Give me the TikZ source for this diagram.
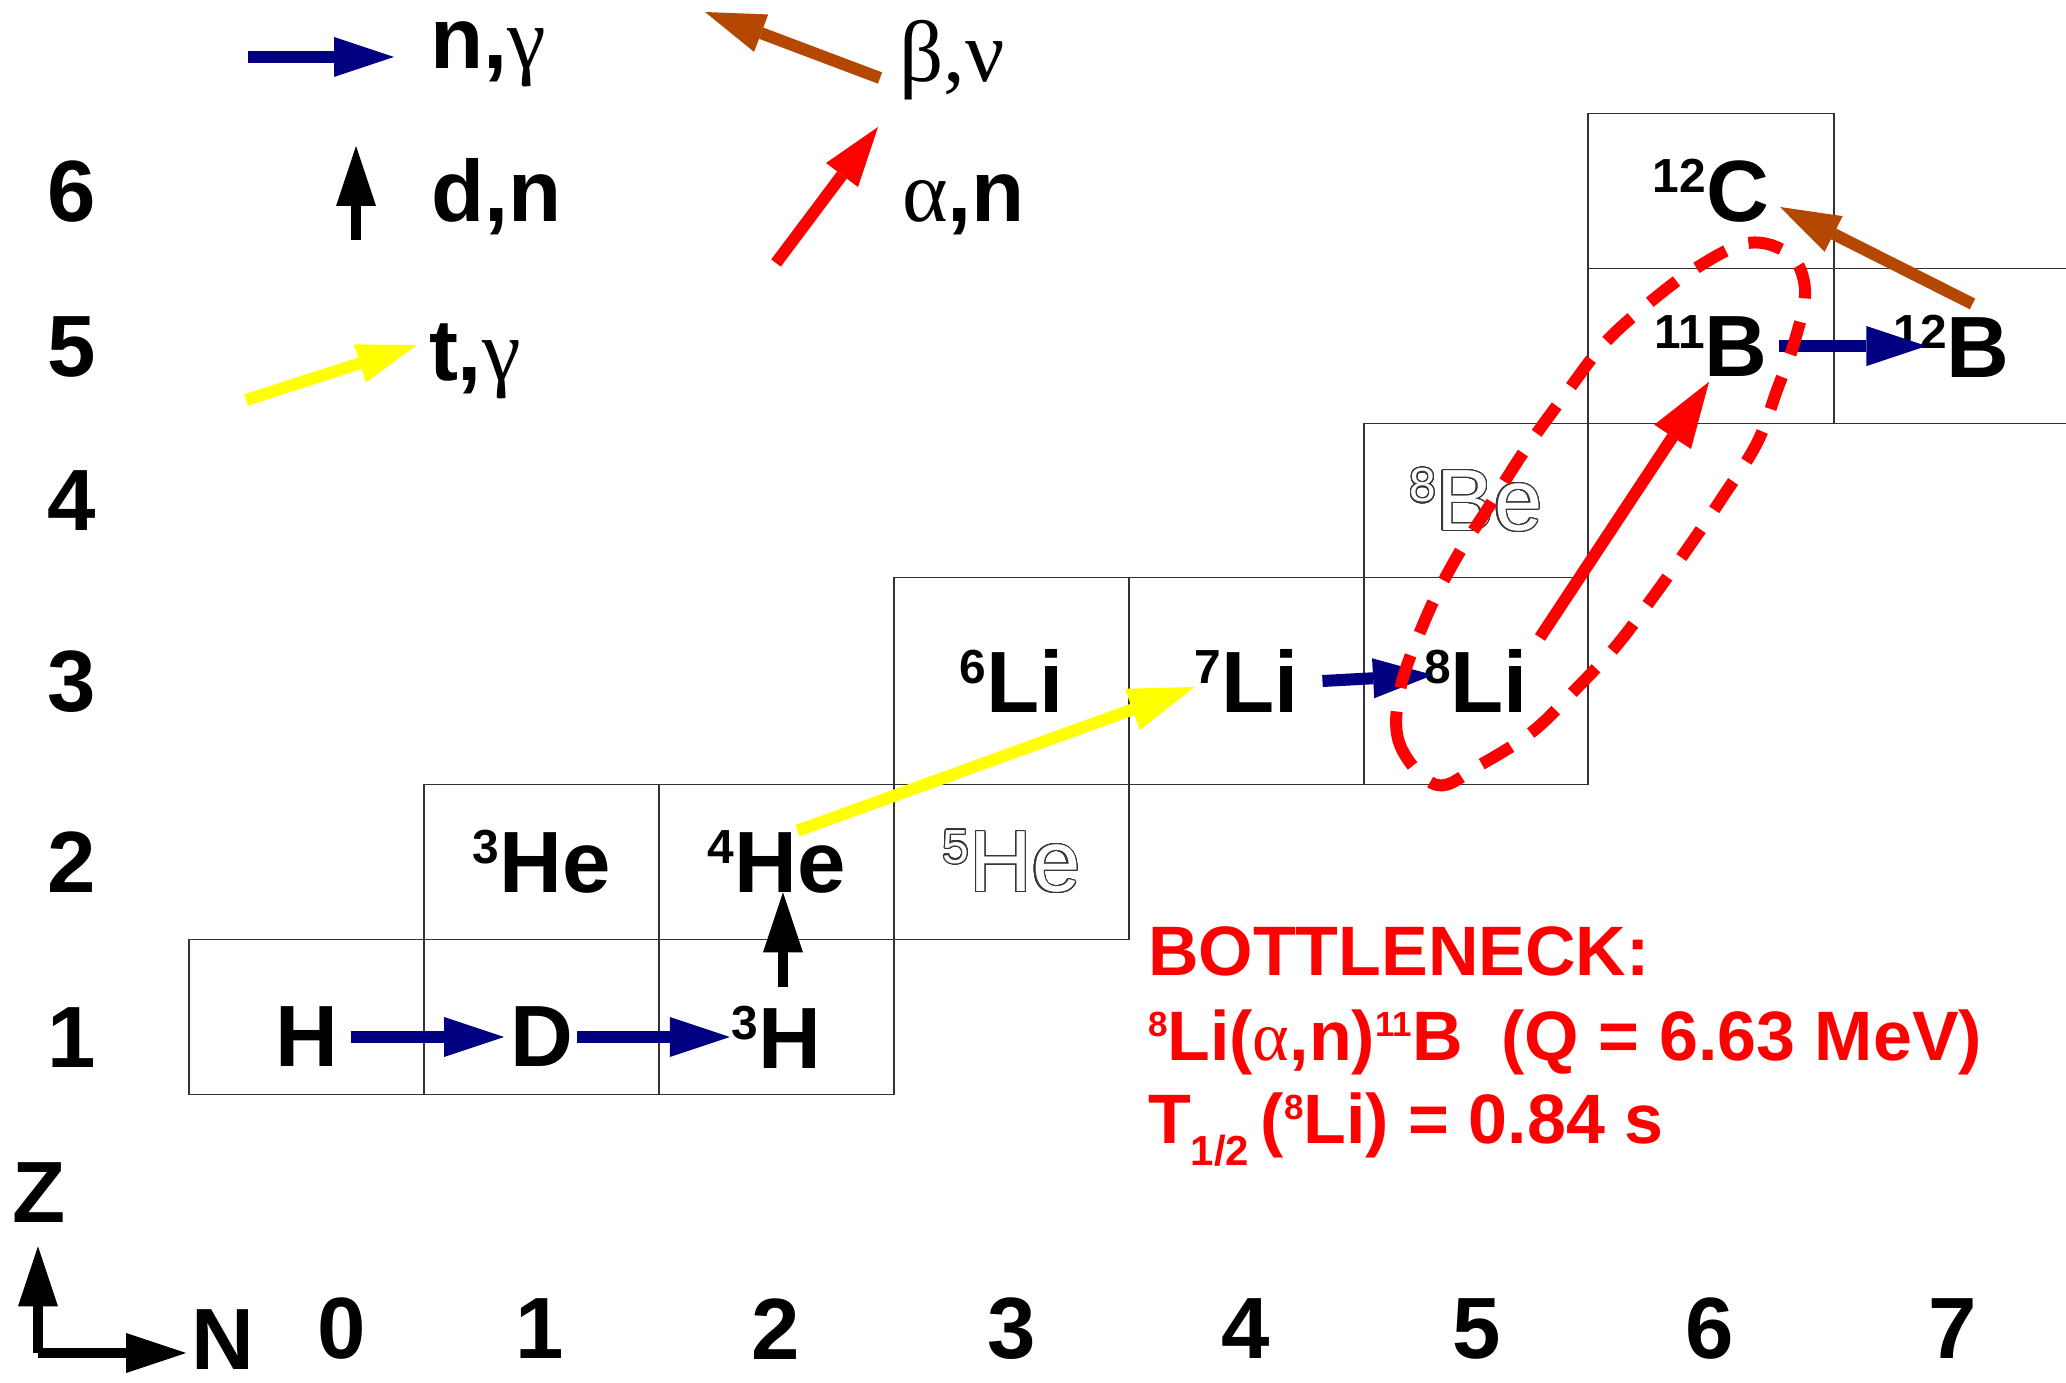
\documentclass[tikz,border=0pt]{standalone}
\usepackage{fontspec}
\setmainfont{Liberation Sans}
\newfontfamily\greekfont{Liberation Serif}
\usepackage{graphicx}
\usepackage{contour}
\usepackage{tikz}
\usetikzlibrary{
	positioning,
	arrows.meta,
	calc
}
\definecolor{ReacBlue}{RGB}{0,0,128}
\definecolor{ReacRed}{RGB}{255,0,0}
\definecolor{ReacYellow}{RGB}{255,255,0}
\definecolor{ReacBrown}{RGB}{180,72,0}
\definecolor{GridGray}{RGB}{50,50,50}
\definecolor{GhostGray}{RGB}{55,55,55}
\contourlength{1.2pt}
\contournumber{32}
% mass number in front of the element
\newcommand{\iso}[3][.55]{\raisebox{.33em}{\scalebox{#1}{#2}}#3}
\newcommand{\gk}[1]{{\greekfont\mdseries #1}}
% unbound nuclei: hollow letters
\newcommand{\unbound}[1]{{\mdseries\color{white}\contour{GhostGray}{#1}}}

\begin{document}
\begin{tikzpicture}[
	x=1pt,
	y=-1pt,
	node distance=0pt,
	every node/.style={
		inner sep=0pt,
		outer sep=0pt
	},
	cell/.style={
		draw=GridGray,
		line width=1.5pt,
		minimum width=235pt,
		minimum height=155pt
	},
	nuc/.style={
		font=\fontsize{87}{90}\selectfont\bfseries
	},
	note/.style={
		anchor=base west,
		text=ReacRed,
		font=\fontsize{70}{80}\selectfont\bfseries
	},
	reac/.style={
		line width=12pt,
		-{Triangle[length=60pt,width=40pt,line width=0pt]}
	},
	bigtip/.style={
		-{Triangle[length=66pt,width=44pt,line width=0pt]}
	},
	ngamma/.style={reac, ReacBlue},
	dn/.style={reac, line width=10pt, black},
	tgamma/.style={reac, ReacYellow},
	alphan/.style={reac, ReacRed},
	betanu/.style={reac, ReacBrown},
	axisarrow/.style={reac, line width=10pt, black},
	bottleneck/.style={
		ReacRed,
		line width=12pt,
		dash pattern=on 34pt off 24pt
	}
	]
	
	\path[use as bounding box, fill=white] (0,0) rectangle (2066,1383);
	
	% chart cells
	\node[cell] (cH) at (306.5,1017) {};
	\node[cell, right=of cH] (cD) {};
	\node[cell, right=of cD] (cH3) {};
	\node[cell, above=of cD] (cHe3) {};
	\node[cell, right=of cHe3] (cHe4) {};
	\node[cell, right=of cHe4] (cHe5) {};
	\node[cell, minimum height=207pt, above=of cHe5] (cLi6) {};
	\node[cell, minimum height=207pt, right=of cLi6] (cLi7) {};
	\node[cell, minimum width=224pt, minimum height=207pt, right=of cLi7] (cLi8) {};
	\node[cell, minimum width=224pt, minimum height=154pt, above=of cLi8] (cBe8) {};
	\node[cell, minimum width=246pt, above right=of cBe8] (cB11) {};
	\node[cell, right=of cB11] (cB12) {};
	\node[cell, minimum width=246pt, above=of cB11] (cC12) {};
	
	% nuclei
	\node[nuc] (H) at ([yshift=-20pt]cH.center) {H};
	\node[nuc] (D) at ([yshift=-20pt]cD.center) {D};
	\node[nuc] (H3) at ([yshift=-20pt]cH3.center) {\iso{3}{H}};
	\node[nuc] (He3) at (cHe3) {\iso{3}{He}};
	\node[nuc] (He4) at (cHe4) {\iso{4}{He}};
	\node[nuc] (He5) at (cHe5) {\unbound{\iso{5}{He}}};
	\node[nuc] (Li6) at (cLi6) {\iso{6}{Li}};
	\node[nuc] (Li7) at (cLi7) {\iso{7}{Li}};
	\node[nuc] (Li8) at (cLi8) {\iso{8}{Li}};
	\node[nuc] (Be8) at (cBe8) {\unbound{\iso{8}{Be}}};
	\node[nuc] (B11) at (cB11) {\iso{11}{B}};
	\node[nuc] (B12) at (cB12) {\iso{12}{B}};
	\node[nuc] (C12) at (cC12) {\iso{12}{C}};
	
	% Z and N numbers
	\foreach \z/\y in {1/1038,2/862.5,3/681.5,4/501,5/346.5,6/191.5}
		\node[nuc] (z\z) at (72,\y) {\z};
	\foreach \n/\x in {0/342,1/540,2/776,3/1012,4/1246,5/1477,6/1710,7/1953}
		\node[nuc] (n\n) at (\x,1329) {\n};
	
	% axes
	\coordinate (o) at (38,1353);
	\node[nuc] (zl) at (39.5,1192.5) {Z};
	\node[nuc] (nl) at (222.5,1340) {N};
	\draw[axisarrow] (o) -- ($(o |- zl.south)+(0,24)$);
	\draw[axisarrow] (o) -- ($(o -| nl.west)+(-5,0)$);
	
	% legend
	\coordinate (ng0) at (248,57);
	\coordinate (ng1) at (394,57);
	\coordinate (dn0) at (356,240);
	\coordinate (dn1) at (356,146);
	\coordinate (tg0) at (246,400);
	\coordinate (tg1) at (417,345);
	\coordinate (bn0) at (880,78);
	\coordinate (bn1) at (705,12);
	\coordinate (an0) at (776,263);
	\coordinate (an1) at (878,127);
	\draw[ngamma] (ng0) -- (ng1);
	\draw[dn] (dn0) -- (dn1);
	\draw[tgamma] (tg0) -- (tg1);
	\draw[betanu] (bn0) -- (bn1);
	\draw[alphan] (an0) -- (an1);
	\node[nuc, anchor=base west] (lng) at (430,69) {n,\gk{γ}};
	\node[nuc, anchor=base west] (ldn) at (431,222) {d,n};
	\node[nuc, anchor=base west] (ltg) at (429,380) {t,\gk{γ}};
	\node[nuc, anchor=base west] (lbn) at (899,82) {\gk{β,ν}};
	\node[nuc, anchor=base west] (lan) at (902,222) {\gk{α},n};
	
	% reaction path
	\draw[ngamma] ([xshift=13pt]H.east) -- ([xshift=-6pt]D.west);
	\draw[ngamma] ([xshift=4pt]D.east) -- ([xshift=-2pt]H3.west);
	\draw[dn] ([xshift=6.5pt,yshift=19pt]H3.north) -- ([xshift=6.5pt]He4.base);
	\draw[tgamma, bigtip] ([xshift=21pt]He4.north) -- ([yshift=-6pt]Li7.west);
	\draw[ngamma] ([xshift=24pt]Li7.east) -- ([xshift=9pt,yshift=6pt]Li8.west);
	\draw[alphan, bigtip] ([xshift=12pt,yshift=12pt]Li8.north east) -- ([xshift=-2pt,yshift=-5pt]B11.base);
	\draw[ngamma] ([xshift=11pt]B11.east) -- ([xshift=33pt]B12.west);
	\draw[betanu] ([xshift=21pt,yshift=11pt]B12.north) -- ([xshift=11pt,yshift=-16pt]C12.east);
	
	% bottleneck loop
	\draw[bottleneck] plot[smooth cycle, tension=0.6] coordinates {
		(1437,785) (1400,745) (1400,690) (1425,620) (1455,560)
		(1490,505) (1525,450) (1567,392) (1603,345) (1643,308)
		(1693,270) (1748,243) (1790,255) (1805,290) (1795,340)
		(1777,390) (1757,443) (1722,498) (1688,548) (1653,597)
		(1617,645) (1575,690) (1532,732) (1480,765)
	};
	
	\node[note] (note1) at (1148,975) {BOTTLENECK:};
	\node[note] (note2) at (1148,1060) {\iso[.5]{8}{Li}(\gk{α},n)\iso[.5]{11}{B}\ \ (Q = 6.63 MeV)};
	\node[note] (note3) at (1148,1143) {T\raisebox{-22pt}{\scalebox{.6}{1/2}}\,(\iso[.5]{8}{Li}) = 0.84 s};
	
\end{tikzpicture}
\end{document}
